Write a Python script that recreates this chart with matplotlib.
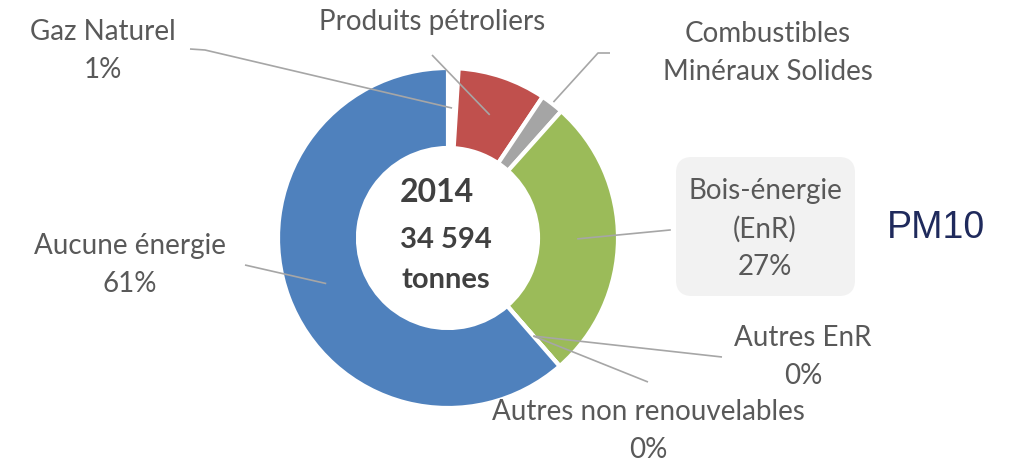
import numpy as np
import matplotlib
matplotlib.use("Agg")
from matplotlib import pyplot as plt
from matplotlib.patches import FancyBboxPatch

# data (share in %)
categories = ["Gaz Naturel", "Produits pétroliers", "Combustibles\nMinéraux Solides",
              "Bois-énergie\n(EnR)", "Autres EnR", "Autres non renouvelables", "Aucune énergie"]
shares = [1.0, 8.4, 2.2, 27.0, 0.0, 0.0, 61.4]
shown_pct = ["1%", None, None, "27%", "0%", "0%", "61%"]
colors = ["white", "#c0504d", "#a5a5a5", "#9bbb59", "#4bacc6", "#f79646", "#4f81bd"]
year = "2014"
total = "34 594"
unit = "tonnes"
pollutant = "PM10"

W, H = 1018, 462
plt.rcParams['font.family'] = ['Lato', 'DejaVu Sans']

fig = plt.figure(figsize=(W / 100, H / 100), dpi=100)
ax = fig.add_axes([0, 0, 1, 1])

def py(y):  # pixel row -> data y
    return H - y

cx, cy, R, ring = 448, py(238), 170, 80
wedges, _ = ax.pie(shares, colors=colors, startangle=90, counterclock=False,
                   center=(cx, cy), radius=R, frame=True,
                   wedgeprops=dict(width=ring, edgecolor='white', linewidth=3))
ax.set_xlim(0, W)
ax.set_ylim(0, H)
ax.set_aspect('equal')
ax.axis('off')

lab_col = "#595959"
line_col = "#a6a6a6"
fs = 20
lsp = 1.56

def anchor(w, r=130):
    a = np.deg2rad((w.theta1 + w.theta2) / 2)
    return cx + r * np.cos(a), cy + r * np.sin(a)

def label(i, tx, ty, pts):
    txt = categories[i] if shown_pct[i] is None else categories[i] + "\n" + shown_pct[i]
    ax.text(tx, py(ty), txt, ha='center', va='center', color=lab_col,
            fontsize=fs, linespacing=lsp, zorder=2)
    ex, ey = anchor(wedges[i], 172 if i == 2 else 130)
    xs = [p[0] for p in pts] + [ex]
    ys = [py(p[1]) for p in pts] + [ey]
    ax.plot(xs, ys, color=line_col, lw=1.2, solid_capstyle='butt')

label(0, 103, 51, [(190, 49), (205, 50)])
label(1, 432, 22, [(432, 55)])
label(2, 768, 53, [(610, 53), (598, 53)])
label(4, 803, 357, [(722, 357)])
label(5, 648, 431, [(648, 382)])
label(6, 130, 265, [(245, 265)])

# Bois-énergie label sits in a light rounded box
box = FancyBboxPatch((676, py(296)), 179, 139, boxstyle="round,pad=0,rounding_size=16",
                     facecolor="#f2f2f2", edgecolor="none", zorder=1)
ax.add_patch(box)
ax.text(765, py(229), categories[3] + "\n" + shown_pct[3], ha='center', va='center',
        color=lab_col, fontsize=fs, linespacing=lsp, zorder=2)
bx, by = anchor(wedges[3])
ax.plot([670, bx], [py(230), by], color=line_col, lw=1.2)

# centre text
ctr = "#404040"
ax.text(437, py(192), year, ha='center', va='center', color=ctr, fontsize=23, fontweight='bold')
ax.text(446, py(240), total, ha='center', va='center', color=ctr, fontsize=21, fontweight='bold')
ax.text(446, py(280), unit, ha='center', va='center', color=ctr, fontsize=21, fontweight='bold')

ax.text(936, py(228), pollutant, ha='center', va='center', color="#1f2a5c", fontsize=27,
        family=['Liberation Sans', 'DejaVu Sans'])

fig.savefig("out.png", dpi=100)
